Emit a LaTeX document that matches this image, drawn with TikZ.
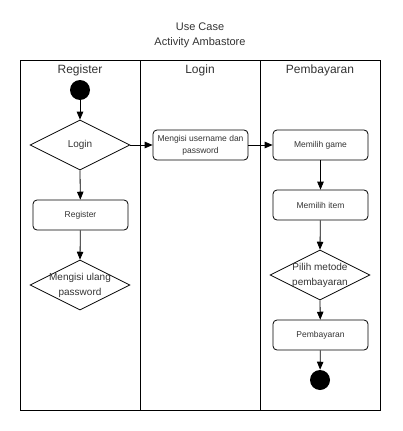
\documentclass[tikz,border=0pt]{standalone}
\usepackage{fontspec}
\setmainfont{Liberation Sans}
\usetikzlibrary{arrows, positioning, shapes.geometric}
\definecolor{txtgray}{HTML}{333333}

\tikzset{
  action/.style={draw, rounded corners=4pt, minimum width=95pt, minimum height=30pt,
    inner sep=0pt, align=center, font=\fontsize{8.5}{12}\selectfont, text=txtgray},
  decision/.style={draw, diamond, minimum width=100pt, minimum height=50pt, inner sep=0pt},
  dlabel/.style={align=center, font=\fontsize{10}{15}\selectfont, text=txtgray, inner sep=0pt},
  dot/.style={circle, fill=black, minimum size=20pt, inner sep=0pt},
  lane/.style={font=\fontsize{12}{14}\selectfont, text=txtgray},
}

\begin{document}
\begin{tikzpicture}[x=1pt, y=-1pt, line width=0.8pt, >=triangle 45]

\useasboundingbox (0,0) rectangle (402,431);

% pool
\node[align=center, font=\fontsize{11}{15}\selectfont, text=txtgray] (title) at (200,35) {Use Case\\Activity Ambastore};
\draw (20,60) rectangle (380,410);
\draw (140,60) -- (140,410);
\draw (260,60) -- (260,410);

\node[lane] (laneR) at (80,70) {Register};
\node[lane] (laneL) at (200,70) {Login};
\node[lane] (laneP) at (320,70) {Pembayaran};

% nodes
\node[dot] (start) at (80,90) {};
\node[decision] (login) at (80,145) {};
\node[dlabel] at (login) {Login};
\node[action] (register) at (80.5,215) {Register};
\node[decision] (ulang) at (80,285) {};
\node[dlabel] at (ulang) {Mengisi ulang\\password};

\node[action] (isi) at (200.5,145) {Mengisi username dan\\password};

\node[action] (game) at (320.5,145) {Memilih game};
\node[action] (item) at (320.5,205) {Memilih item};
\node[decision] (metode) at (320,275) {};
\node[dlabel] at (metode) {Pilih metode\\pembayaran};
\node[action] (bayar) at (320.5,335) {Pembayaran};
\node[dot] (stop) at (320,380) {};

% arrows
\draw [->] (start) -- (login.north);
\draw [->] (login.south) -- (register);
\draw [->] (register) -- (ulang.north);
\draw [->] (login.east) -- (isi);
\draw [->] (isi) -- (game);
\draw [->] (game) -- (item);
\draw [->] (item) -- (metode.north);
\draw [->] (metode.south) -- (bayar);
\draw [->] (bayar) -- (stop);

\end{tikzpicture}
\end{document}
